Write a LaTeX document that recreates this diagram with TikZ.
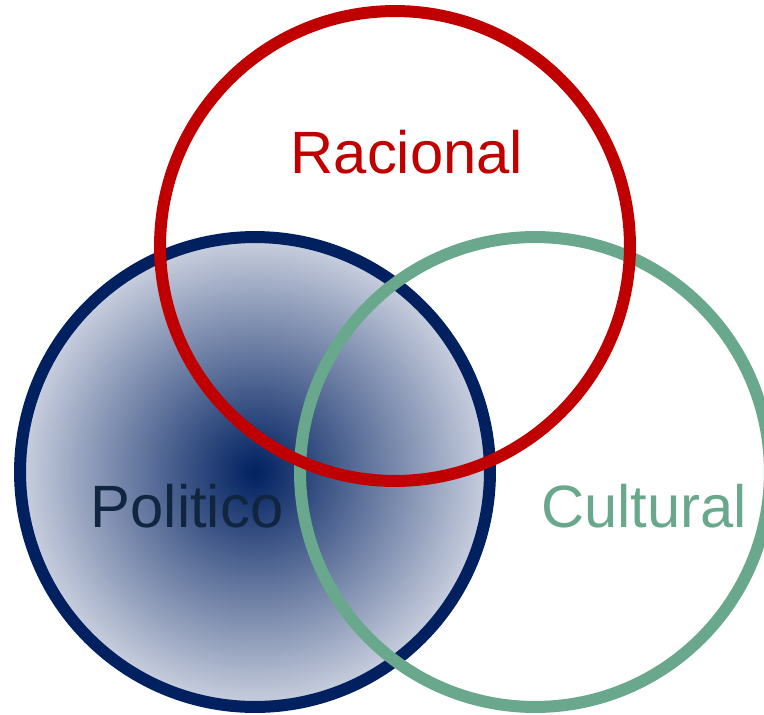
\documentclass[tikz,border=0pt]{standalone}
\usepackage{fontspec}
\setmainfont{Liberation Sans}

\definecolor{navy}{RGB}{0,32,96}
\definecolor{navylight}{RGB}{202,208,223}
\definecolor{racred}{RGB}{192,0,0}
\definecolor{culgreen}{RGB}{106,168,141}
\definecolor{poltext}{RGB}{16,38,64}

\tikzset{
  ring/.style={line width=0.24cm},
  setname/.style={anchor=base, font=\fontsize{34}{40}\selectfont}
}

\begin{document}
\begin{tikzpicture}[x=0.02cm, y=-0.02cm]
    \useasboundingbox (0,0) rectangle (764,714);
    \coordinate (Pol) at (255,472);
    \coordinate (Cul) at (535,472);
    \coordinate (Rac) at (395,246);
    \shade[inner color=navy, outer color=navylight] (Pol) circle[radius=4.7cm];
    \draw[ring, navy] (Pol) circle[radius=4.7cm];
    \draw[ring, culgreen] (Cul) circle[radius=4.7cm];
    \draw[ring, racred] (Rac) circle[radius=4.7cm];
    \node[setname, racred] (racional) at (407,173) {Racional};
    \node[setname, poltext] (politico) at (187,527) {Politico};
    \node[setname, culgreen] (cultural) at (644,527) {Cultural};
\end{tikzpicture}
\end{document}
